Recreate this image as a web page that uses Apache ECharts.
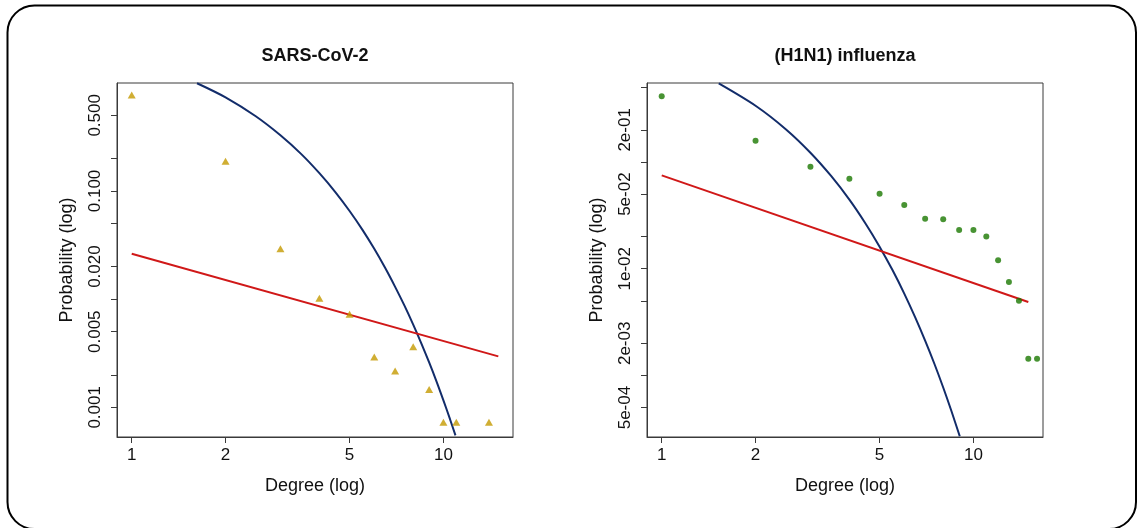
<!DOCTYPE html>
<html>
<head>
<meta charset="utf-8">
<script src="https://cdn.jsdelivr.net/npm/echarts@6/dist/echarts.min.js"></script>
<style>
  html, body { margin: 0; padding: 0; background: #ffffff; }
  #chart { width: 1143px; height: 528px; }
</style>
</head>
<body>
<div id="chart"></div>
<script>
// ---- Data ----
const panelTitles = ['SARS-CoV-2', '(H1N1) influenza'];
const xTickValues = [1, 2, 5, 10];

// SARS-CoV-2 observed degree distribution
const sarsDegree = [1, 2, 3, 4, 5, 6, 7, 8, 9, 10, 11, 14];
const sarsProb = [0.771, 0.188, 0.0293, 0.0102, 0.00724, 0.00292, 0.00217, 0.00364, 0.00146, 0.000727, 0.000727, 0.000727];
// SARS-CoV-2 power-law fit (red, straight on log-log)
const sarsPowerDegree = [1, 15];
const sarsPowerProb = [0.0263, 0.00296];
// SARS-CoV-2 exponential fit (blue)
const sarsExpDegree = [1.62, 2, 2.5, 3, 3.5, 4, 4.5, 5, 5.5, 6, 6.5, 7, 7.5, 8, 8.5, 9, 9.5, 10, 10.5, 10.93];
const sarsExpProb = [0.99, 0.733, 0.490, 0.327, 0.219, 0.146, 0.0977, 0.0653, 0.0437, 0.0292, 0.0195, 0.0130, 0.00871, 0.00582, 0.00389, 0.00260, 0.00174, 0.00116, 0.000777, 0.00055];
const sarsYTicks = [0.001, 0.002, 0.005, 0.01, 0.02, 0.05, 0.1, 0.2, 0.5];
const sarsYLabels = [0.001, 0.005, 0.02, 0.1, 0.5];

// H1N1 observed degree distribution
const h1n1Degree = [1, 2, 3, 4, 5, 6, 7, 8, 9, 10, 11, 12, 13, 14, 15, 16];
const h1n1Prob = [0.412, 0.158, 0.0903, 0.0697, 0.0505, 0.0395, 0.0294, 0.0290, 0.0231, 0.0231, 0.0200, 0.0120, 0.0075, 0.0050, 0.00143, 0.00143];
// H1N1 power-law fit (red)
const h1n1PowerDegree = [1, 15];
const h1n1PowerProb = [0.0749, 0.00487];
// H1N1 exponential fit (blue)
const h1n1ExpDegree = [1.524, 2, 2.5, 3, 3.5, 4, 4.5, 5, 5.5, 6, 6.5, 7, 7.5, 8, 8.5, 9.04];
const h1n1ExpProb = [0.545, 0.3365, 0.203, 0.1222, 0.0736, 0.0444, 0.0267, 0.0161, 0.00971, 0.00585, 0.00352, 0.00212, 0.00128, 0.000771, 0.000464, 0.000269];
const h1n1YTicks = [0.0005, 0.001, 0.002, 0.005, 0.01, 0.02, 0.05, 0.1, 0.2, 0.5];
const h1n1YLabels = [0.0005, 0.002, 0.01, 0.05, 0.2];

// ---- Styling ----
const FONT = '"Liberation Sans", Arial, sans-serif';
const AXIS_COLOR = '#3a3a3a';
const COL_TRI = '#C49A00';
const COL_DOT = '#1A7800';
const COL_RED = '#D01818';
const COL_BLUE = '#122C6A';

function pairs(xs, ys) { return xs.map((x, i) => [x, ys[i]]); }
function roundSig(v) { return Number(v.toPrecision(6)); }
function fmtFixed(v) { return roundSig(v).toFixed(3); }
function fmtExp(v) {
  v = roundSig(v);
  const e = Math.floor(Math.log10(v) + 1e-9);
  const m = Math.round(v / Math.pow(10, e));
  const sign = e < 0 ? '-' : '+';
  const ae = Math.abs(e);
  return m + 'e' + sign + (ae < 10 ? '0' + ae : '' + ae);
}

const grids = [
  { left: 117, top: 83, width: 396, height: 354, show: true, borderColor: AXIS_COLOR, borderWidth: 1, backgroundColor: 'transparent' },
  { left: 647, top: 83, width: 396, height: 354, show: true, borderColor: AXIS_COLOR, borderWidth: 1, backgroundColor: 'transparent' }
];

function xAxisFor(gi) {
  return {
    type: 'log', gridIndex: gi, logBase: 10,
    min: 0.897, max: 16.72,
    name: 'Degree (log)', nameLocation: 'middle', nameGap: 40,
    nameTextStyle: { fontFamily: FONT, fontSize: 18, color: '#111' },
    axisLine: { show: true, lineStyle: { color: AXIS_COLOR, width: 1 } },
    axisTick: { show: true, length: 6, inside: false, customValues: xTickValues, lineStyle: { color: AXIS_COLOR } },
    axisLabel: { show: true, margin: 10, customValues: xTickValues, fontFamily: FONT, fontSize: 17, color: '#111',
      formatter: v => String(Math.round(v)) },
    splitLine: { show: false }, minorTick: { show: false }
  };
}
function yAxisFor(gi, min, max, ticks, labels, fmt) {
  return {
    type: 'log', gridIndex: gi, logBase: 10,
    min: min, max: max,
    name: 'Probability (log)', nameLocation: 'middle', nameGap: 41, nameRotate: 90,
    nameTextStyle: { fontFamily: FONT, fontSize: 18, color: '#111' },
    axisLine: { show: true, lineStyle: { color: AXIS_COLOR, width: 1 } },
    axisTick: { show: true, length: 6, inside: false, customValues: ticks, lineStyle: { color: AXIS_COLOR } },
    axisLabel: { show: true, margin: 13, rotate: 90, customValues: labels, fontFamily: FONT, fontSize: 17, color: '#111',
      formatter: fmt },
    splitLine: { show: false }, minorTick: { show: false }
  };
}

const curveCommon = { showSymbol: false, symbol: 'none', clip: true, smooth: 0.3 };

const option = {
  backgroundColor: '#ffffff',
  animation: false,
  title: [
    { text: panelTitles[0], left: 315, top: 47, padding: 0, textAlign: 'center',
      textStyle: { fontFamily: FONT, fontSize: 18, fontWeight: 'bold', color: '#111' } },
    { text: panelTitles[1], left: 845, top: 47, padding: 0, textAlign: 'center',
      textStyle: { fontFamily: FONT, fontSize: 18, fontWeight: 'bold', color: '#111' } }
  ],
  grid: grids,
  xAxis: [xAxisFor(0), xAxisFor(1)],
  yAxis: [
    yAxisFor(0, 0.000532, 0.9954, sarsYTicks, sarsYLabels, fmtFixed),
    yAxisFor(1, 0.000265, 0.5495, h1n1YTicks, h1n1YLabels, fmtExp)
  ],
  graphic: [
    { type: 'rect', shape: { x: 7.5, y: 5.5, width: 1128.5, height: 523.5, r: 27 },
      style: { fill: 'none', stroke: '#000', lineWidth: 2 }, silent: true, z: 100 }
  ],
  series: [
    Object.assign({ type: 'line', name: 'SARS exp fit', xAxisIndex: 0, yAxisIndex: 0, data: pairs(sarsExpDegree, sarsExpProb),
      lineStyle: { color: COL_BLUE, width: 2 }, z: 3 }, curveCommon),
    { type: 'line', name: 'SARS power fit', xAxisIndex: 0, yAxisIndex: 0, data: pairs(sarsPowerDegree, sarsPowerProb),
      showSymbol: false, symbol: 'none', clip: true, lineStyle: { color: COL_RED, width: 2 }, z: 3 },
    { type: 'scatter', name: 'SARS observed', xAxisIndex: 0, yAxisIndex: 0, data: pairs(sarsDegree, sarsProb),
      symbol: 'triangle', symbolSize: [8, 7], itemStyle: { color: COL_TRI }, z: 4 },
    Object.assign({ type: 'line', name: 'H1N1 exp fit', xAxisIndex: 1, yAxisIndex: 1, data: pairs(h1n1ExpDegree, h1n1ExpProb),
      lineStyle: { color: COL_BLUE, width: 2 }, z: 3 }, curveCommon),
    { type: 'line', name: 'H1N1 power fit', xAxisIndex: 1, yAxisIndex: 1, data: pairs(h1n1PowerDegree, h1n1PowerProb),
      showSymbol: false, symbol: 'none', clip: true, lineStyle: { color: COL_RED, width: 2 }, z: 3 },
    { type: 'scatter', name: 'H1N1 observed', xAxisIndex: 1, yAxisIndex: 1, data: pairs(h1n1Degree, h1n1Prob),
      symbol: 'circle', symbolSize: 6, itemStyle: { color: COL_DOT }, z: 4 }
  ]
};

const chart = echarts.init(document.getElementById('chart'), null, { renderer: 'canvas' });
chart.setOption(option);
</script>
</body>
</html>
